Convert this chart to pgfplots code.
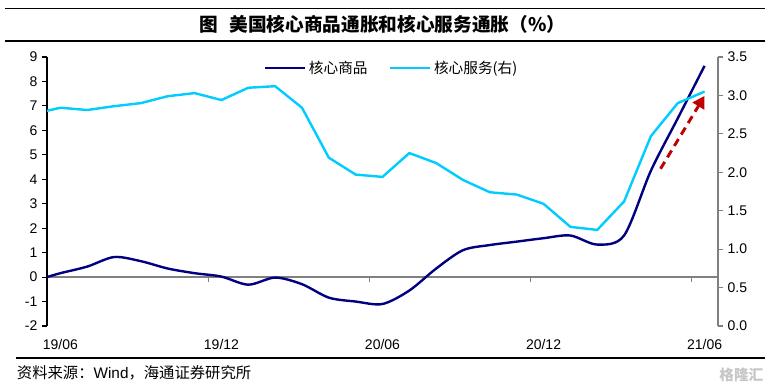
\documentclass[border=0pt]{standalone}
\usepackage{fontspec}
\setmainfont{Liberation Sans}
\newfontfamily\cjk{Noto Sans CJK SC}
\usepackage{pgfplots}
\pgfplotsset{compat=1.18}
\usetikzlibrary{arrows.meta}
\definecolor{navyc}{RGB}{0,0,128}
\definecolor{skyc}{RGB}{0,204,255}
\definecolor{redc}{RGB}{192,0,0}
\definecolor{axgray}{RGB}{128,128,128}

\begin{document}
\begin{tikzpicture}
\useasboundingbox (0,0) rectangle (573.75pt,291.75pt);
% title and rules
\draw[black, line width=1pt] (3.75pt,285.5pt) -- (573.75pt,285.5pt);
\draw[black, line width=1pt] (3.75pt,261pt) -- (573.75pt,261pt);
\node[font=\cjk\bfseries\fontsize{14}{16}\selectfont] at (286.9pt,273.2pt) {图\hspace{0.6em}美国核心商品通胀和核心服务通胀（\%）};
\draw[black, line width=0.9pt] (12pt,23.25pt) -- (573.75pt,23.25pt);
\node[anchor=west, inner sep=0pt, font=\cjk\fontsize{11.5}{13}\selectfont] at (12.5pt,12pt) {资料来源：{\rmfamily Wind}，海通证券研究所};
\node[text=gray!45, font=\cjk\bfseries\fontsize{11}{13}\selectfont] at (556pt,10.5pt) {格隆汇};

\begin{axis}[
  at={(35.25pt,47.25pt)}, anchor=south west,
  scale only axis, width=503.25pt, height=201.75pt,
  xmin=-0.5, xmax=24.5, ymin=-2, ymax=9,
  axis y line*=left, axis x line*=bottom,
  x axis line style={draw=none},
  y axis line style={black, line width=0.8pt},
  ytick={-2,-1,0,1,2,3,4,5,6,7,8,9},
  xtick={0,6,12,18,24},
  xticklabels={19/06,19/12,20/06,20/12,21/06},
  xtick style={draw=none},
  xticklabel style={yshift=-3pt},
  ytick style={black, line width=0.8pt},
  tick align=outside, major tick length=3.75pt,
  tick label style={font=\fontsize{10.5}{12}\selectfont},
  /pgf/number format/assume math mode=true,
  legend columns=2,
  legend style={at={(0.514,0.959)}, anchor=center, draw=none, fill=none,
    font=\cjk\fontsize{11}{13}\selectfont,
    /tikz/every even column/.append style={column sep=14pt}},
  legend image code/.code={\draw[#1] (0pt,0pt) -- (30pt,0pt);},
]
\addplot[axgray, line width=0.9pt, forget plot] coordinates {(-0.5,0) (24.5,0)};
\draw[axgray, line width=0.8pt] (axis cs:5.5,0) -- ([yshift=-3.75pt]axis cs:5.5,0);
\draw[axgray, line width=0.8pt] (axis cs:11.5,0) -- ([yshift=-3.75pt]axis cs:11.5,0);
\draw[axgray, line width=0.8pt] (axis cs:17.5,0) -- ([yshift=-3.75pt]axis cs:17.5,0);
\draw[axgray, line width=0.8pt] (axis cs:23.5,0) -- ([yshift=-3.75pt]axis cs:23.5,0);
\addplot[navyc, line width=1.8pt, smooth, tension=0.5] coordinates {
(-0.5,0.00) (0,0.16) (1,0.43) (2,0.82) (3,0.65) (4,0.35) (5,0.16) (6,0.02)
(7,-0.31) (8,-0.02) (9,-0.29) (10,-0.84) (11,-1.00) (12,-1.10) (13,-0.55)
(14,0.35) (15,1.10) (16,1.31) (17,1.45) (18,1.59) (19,1.70) (20,1.33)
(21,1.70) (22,4.35) (23,6.49) (24,8.64)};
\addlegendentry{核心商品}
\addlegendimage{skyc, line width=1.8pt}
\addlegendentry{核心服务(右)}
\end{axis}

\begin{axis}[
  at={(35.25pt,47.25pt)}, anchor=south west,
  scale only axis, width=503.25pt, height=201.75pt,
  xmin=-0.5, xmax=24.5, ymin=0, ymax=3.5,
  axis y line*=right, axis x line=none,
  y axis line style={axgray, line width=0.8pt},
  ytick={0,0.5,1,1.5,2,2.5,3,3.5},
  ytick style={axgray, line width=0.8pt},
  tick align=outside, major tick length=3.75pt,
  tick label style={font=\fontsize{10.5}{12}\selectfont},
  /pgf/number format/.cd, fixed, fixed zerofill, precision=1, assume math mode=true,
]
\addplot[skyc, line width=1.8pt] coordinates {
(-0.5,2.80) (0,2.84) (1,2.81) (2,2.86) (3,2.90) (4,2.99) (5,3.03) (6,2.94)
(7,3.10) (8,3.12) (9,2.84) (10,2.19) (11,1.97) (12,1.94) (13,2.25) (14,2.12)
(15,1.90) (16,1.74) (17,1.71) (18,1.59) (19,1.29) (20,1.25) (21,1.62)
(22,2.47) (23,2.90) (24,3.05)};
\draw[redc, line width=2.2pt, dash pattern=on 6pt off 4pt, -{Triangle[length=9pt,width=10pt]}] (axis cs:22.36,2.046) -- (axis cs:24.0,2.994);
\end{axis}
\end{tikzpicture}
\end{document}
